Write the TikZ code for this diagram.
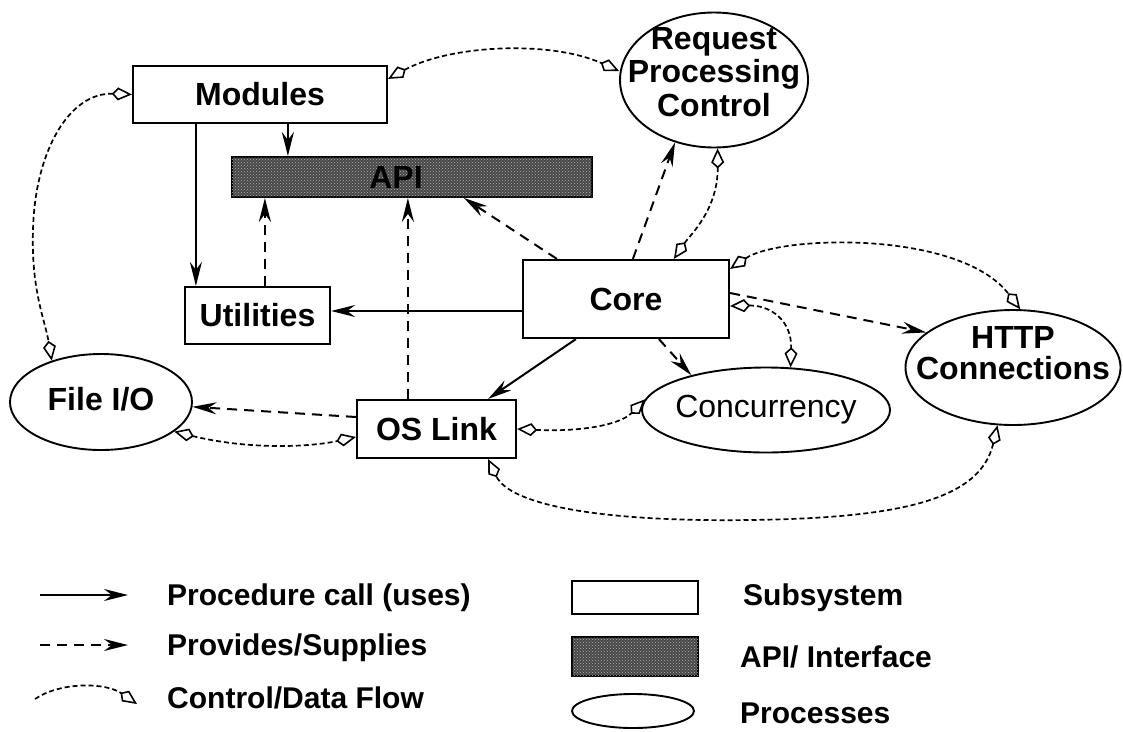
\documentclass[tikz,border=0pt]{standalone}
\usepackage{fontspec}
\setmainfont{Liberation Sans}
\usetikzlibrary{arrows.meta,shapes.geometric,patterns}

\tikzset{
  every node/.style={font=\fontsize{32}{33.5}\selectfont\bfseries},
  box/.style={draw, line width=2.2pt, inner sep=0pt, fill=white},
  proc/.style={draw, ellipse, line width=1.9pt, inner sep=0pt},
  apibar/.style={draw, line width=1.9pt, inner sep=0pt, fill=black!72,
    postaction={pattern=crosshatch dots, pattern color=white!70!black}},
  uses/.style={line width=2pt, -{Stealth[length=24pt,width=12pt,inset=8pt]}},
  supplies/.style={uses, dash pattern=on 10pt off 7pt},
  flow/.style={line width=1.7pt, dash pattern=on 5pt off 3pt,
    {Kite[open,length=20pt,width=13pt,inset=6pt,line width=1.6pt]}-{Kite[open,length=20pt,width=13pt,inset=6pt,line width=1.6pt]}},
  legtext/.style={anchor=base west, inner sep=0pt, font=\fontsize{30}{32}\selectfont\bfseries}
}

\begin{document}
\begin{tikzpicture}[x=1pt,y=-1pt]
  \useasboundingbox (0,0) rectangle (1123,731);

  % subsystems
  \node[box, minimum width=254pt, minimum height=57pt] (modules) at (260,94.5) {Modules};
  \node[apibar, minimum width=360pt, minimum height=40pt] (api) at (412,177) {};
  \node[inner sep=0pt] (apitext) at (396,177) {API};
  \node[box, minimum width=145pt, minimum height=57pt] (utilities) at (257.5,315.5) {Utilities};
  \node[box, minimum width=206pt, minimum height=78pt] (core) at (626,299) {Core};
  \node[box, minimum width=159pt, minimum height=58pt] (oslink) at (436.5,429) {OS Link};

  % processes
  \node[proc, minimum width=188pt, minimum height=135pt,
    label={[align=center, yshift=8pt]center:Request\\Processing\\Control}] (rpc) at (714,80) {};
  \node[proc, minimum width=182pt, minimum height=96pt,
    label={[yshift=3pt]center:File I/O}] (fileio) at (101,402) {};
  \node[proc, minimum width=248pt, minimum height=85pt,
    label={center:\mdseries Concurrency}] (conc) at (766,410) {};
  \node[proc, minimum width=215pt, minimum height=115pt,
    label={[align=center, yshift=14pt, font=\fontsize{32}{31}\selectfont\bfseries]center:HTTP\\Connections}] (http) at (1013,367.5) {};

  % procedure calls
  \draw[uses] ([xshift=64pt]modules.south west) -- ([xshift=64pt]modules.south west |- utilities.north);
  \draw[uses] ([xshift=156pt]modules.south west) -- ([xshift=156pt]modules.south west |- api.north);
  \draw[uses] ([yshift=-12pt]core.west) -- ([yshift=-12pt]core.west -| utilities.east);
  \draw[uses] ([xshift=54pt]core.south west) -- ([xshift=-29pt]oslink.north east);

  % provides / supplies
  \draw[supplies] ([xshift=81pt]utilities.north west) -- ([xshift=81pt]utilities.north west |- api.south);
  \draw[supplies] ([xshift=52pt]oslink.north west) -- ([xshift=52pt]oslink.north west |- api.south);
  \draw[supplies] ([xshift=35pt]core.north west) -- ([xshift=-129pt]api.south east);
  \draw[supplies] ([xshift=111pt]core.north west) -- (rpc.238);
  \draw[supplies] ([xshift=137pt]core.south west) -- (conc.155);
  \draw[supplies] ([yshift=6pt]core.east) -- (http.158);
  \draw[supplies] ([yshift=12pt]oslink.west) -- (fileio.357);

  % control / data flow
  \draw[flow] ([yshift=-14pt]modules.north east) .. controls (450,45) and (550,40) .. ([yshift=9pt]rpc.west);
  \draw[flow] (modules.west) .. controls (70,92) and (35,150) .. (33,230) .. controls (31,290) and (45,320) .. (fileio.140);
  \draw[flow] (rpc.273) .. controls (718,210) and (690,235) .. ([xshift=152pt]core.north west);
  \draw[flow] ([yshift=-10pt]core.north east) .. controls (780,235) and (960,230) .. (http.83);
  \draw[flow] ([yshift=-7pt]core.east) .. controls (770,305) and (792,320) .. (conc.60);
  \draw[flow] (oslink.east) .. controls (580,432) and (620,425) .. (conc.175);
  \draw[flow] (fileio.-22) .. controls (250,450) and (310,447) .. ([yshift=-8pt]oslink.west);
  \draw[flow] (http.255) .. controls (980,500) and (900,518) .. (750,520) .. controls (600,522) and (510,505) .. ([xshift=-29pt]oslink.south east);

  % legend
  \coordinate (usesa) at (40,595);
  \coordinate (usesb) at (128,595);
  \coordinate (suppa) at (40,645);
  \coordinate (suppb) at (128,645);
  \coordinate (flowa) at (35,699);
  \coordinate (flowb) at (137,704);
  \draw[uses] (usesa) -- (usesb);
  \draw[supplies] (suppa) -- (suppb);
  \draw[line width=1.7pt, dash pattern=on 5pt off 3pt, -{Kite[open,length=20pt,width=13pt,inset=6pt,line width=1.6pt]}]
    (flowa) .. controls (60,682) and (105,682) .. (flowb);
  \node[legtext] (usestext) at (167,605) {Procedure call (uses)};
  \node[legtext] (supptext) at (167,655) {Provides/Supplies};
  \node[legtext] (flowtext) at (167,708) {Control/Data Flow};

  \node[box, minimum width=126pt, minimum height=33pt] (legbox) at (635,597.5) {};
  \node[apibar, minimum width=126pt, minimum height=39pt] (legapi) at (635,656.5) {};
  \node[proc, minimum width=122pt, minimum height=34pt] (legproc) at (633,711) {};
  \node[legtext] (boxtext) at (743,605) {Subsystem};
  \node[legtext] (apilegtext) at (740,667) {API/ Interface};
  \node[legtext] (proctext) at (740,723) {Processes};
\end{tikzpicture}
\end{document}
